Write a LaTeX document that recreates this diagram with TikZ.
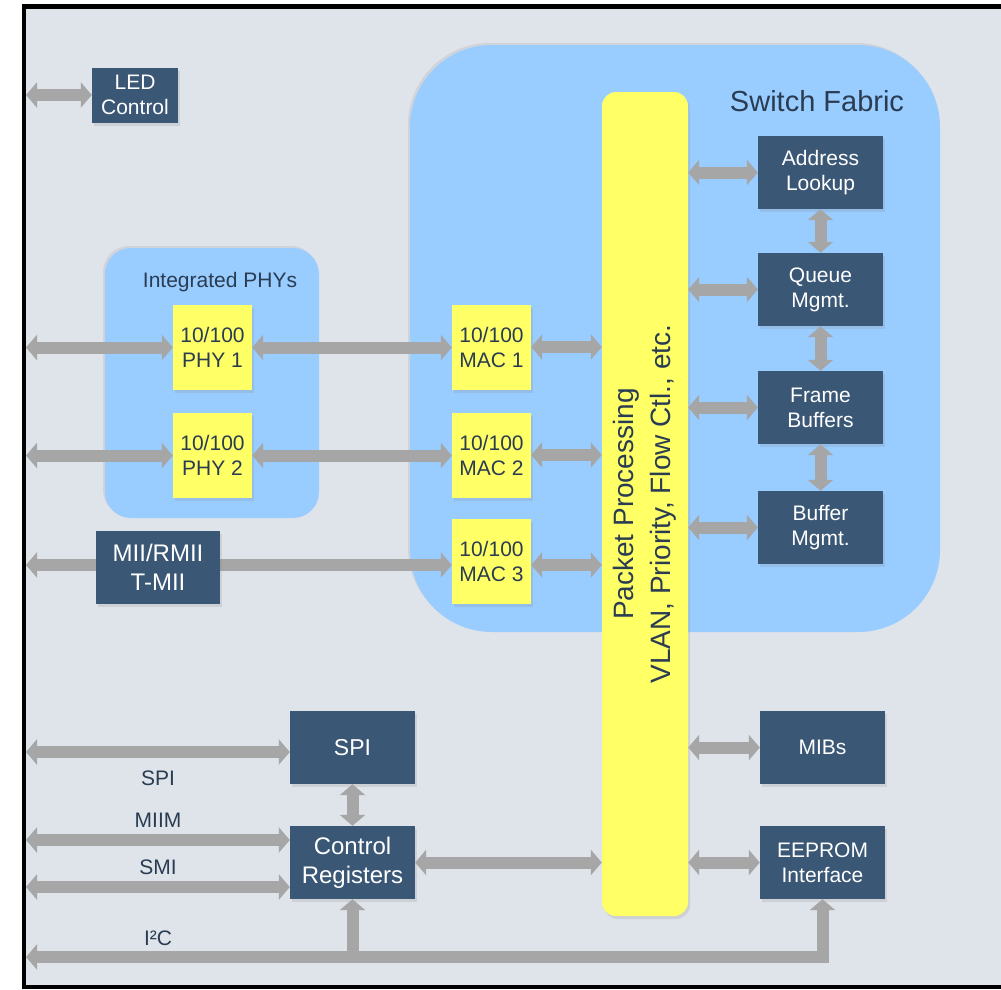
\documentclass[tikz,border=0pt]{standalone}
\usepackage{fontspec}
\setmainfont{Liberation Sans}
\usetikzlibrary{arrows.meta,shadows}
\definecolor{bgc}{HTML}{DFE3EA}
\definecolor{sfblue}{HTML}{99CCFF}
\definecolor{ylw}{HTML}{FFFF66}
\definecolor{dbox}{HTML}{3A5775}
\definecolor{busgray}{HTML}{A6A6A6}
\definecolor{txt}{HTML}{2A3C52}
\begin{document}
\begin{tikzpicture}[x=1pt,y=-1pt,
  >={Triangle[width=25pt,length=11pt]},
  bus/.style={draw=busgray, line width=12pt, line join=miter},
  shd/.style={drop shadow={opacity=0.18, shadow xshift=2pt, shadow yshift=-3pt}},
  darkbox/.style={shd, fill=dbox, text=white, inner sep=0pt, minimum width=125pt, minimum height=73pt, align=center, font=\fontsize{21}{25}\selectfont},
  bigdark/.style={darkbox, font=\fontsize{24}{29}\selectfont},
  ybox/.style={shd, fill=ylw, text=txt, inner sep=0pt, minimum width=79pt, minimum height=85pt, align=center, font=\fontsize{21}{25}\selectfont},
  region/.style={fill=sfblue, drop shadow={opacity=0.15, shadow xshift=-2pt, shadow yshift=2pt}},
  lbl/.style={text=txt, inner sep=0pt, font=\fontsize{21}{25}\selectfont}]
\useasboundingbox (0,0) rectangle (1001,989);
\fill[white] (0,0) rectangle (1001,989);
% frame
\fill[black] (22,4) rectangle (1010,989);
\fill[bgc] (26,9) rectangle (1010,985);
% regions
\fill[region, rounded corners=82pt] (410,45) rectangle (940,632);
\node[lbl, font=\fontsize{29}{34}\selectfont] (sftitle) at (817,101) {Switch Fabric};
\fill[region, rounded corners=26pt] (105,248) rectangle (319,518);
\node[lbl] (phytitle) at (220,282) {Integrated PHYs};
% packet processing bar
\node[shd, fill=ylw, rounded corners=14pt, minimum width=86pt, minimum height=824pt, inner sep=0pt] (bar) at (645,504) {};
\node[rotate=90, align=center, text=txt, font=\fontsize{28}{37}\selectfont] (bartext) at (645,504) {Packet Processing\\VLAN, Priority, Flow Ctl., etc.};
% boxes
\node[darkbox, minimum width=86pt, minimum height=55pt] (led) at (135,95) {LED\\Control};
\node[ybox] (phy1) at (212.5,347.5) {10/100\\PHY 1};
\node[ybox] (phy2) at (212.5,455.5) {10/100\\PHY 2};
\node[ybox] (mac1) at (491.5,347) {10/100\\MAC 1};
\node[ybox] (mac2) at (491.5,455) {10/100\\MAC 2};
\node[ybox] (mac3) at (491.5,561) {10/100\\MAC 3};
\node[darkbox] (addr) at (820.5,172.5) {Address\\Lookup};
\node[darkbox] (queue) at (820.5,289.5) {Queue\\Mgmt.};
\node[darkbox] (frame) at (820.5,407.5) {Frame\\Buffers};
\node[darkbox] (bufm) at (820.5,527.5) {Buffer\\Mgmt.};
\node[darkbox] (mibs) at (822.5,747.5) {MIBs};
\node[darkbox] (eeprom) at (822.5,862.5) {EEPROM\\Interface};
\node[darkbox, font=\fontsize{23}{29}\selectfont] (spi) at (352.5,747.5) {SPI};
\node[bigdark] (ctrl) at (352.5,862.5) {Control\\Registers};
% edge coordinates
\coordinate (eled) at (26,95);
\coordinate (ephy1) at (26,347.5);
\coordinate (ephy2) at (26,455.5);
\coordinate (emii) at (26,565);
\coordinate (espi) at (26,752);
\coordinate (emiim) at (26,840);
\coordinate (esmi) at (26,887);
\coordinate (ei2c) at (26,957);
% buses
\draw[bus,<->] (eled) -- (led.west);
\draw[bus,<->] (ephy1) -- (phy1.west);
\draw[bus,<->] (ephy2) -- (phy2.west);
\draw[bus,<->] (phy1.east) -- (mac1.west |- phy1.east);
\draw[bus,<->] (phy2.east) -- (mac2.west |- phy2.east);
\draw[bus,<->] (emii) -- (mac3.west |- emii);
\node[bigdark, minimum width=124pt] (mii) at (158,567.5) {MII/RMII\\T-MII};
\draw[bus,<->] (mac1.east) -- (mac1.east -| bar.west);
\draw[bus,<->] (mac2.east) -- (mac2.east -| bar.west);
\draw[bus,<->] ([yshift=-4pt]mac3.east) -- ([yshift=-4pt]mac3.east -| bar.west);
\draw[bus,<->] (addr.west -| bar.east) -- (addr.west);
\draw[bus,<->] (queue.west -| bar.east) -- (queue.west);
\draw[bus,<->] (frame.west -| bar.east) -- (frame.west);
\draw[bus,<->] (bufm.west -| bar.east) -- (bufm.west);
\draw[bus,<->] (mibs.west -| bar.east) -- (mibs.west);
\draw[bus,<->] (eeprom.west -| bar.east) -- (eeprom.west);
\draw[bus,<->] (addr.south) -- (queue.north);
\draw[bus,<->] (queue.south) -- (frame.north);
\draw[bus,<->] (frame.south) -- (bufm.north);
\draw[bus,<->] (espi) -- (spi.west |- espi);
\draw[bus,<->] (emiim) -- (ctrl.west |- emiim);
\draw[bus,<->] (esmi) -- (ctrl.west |- esmi);
\draw[bus,<->] (spi.south) -- (ctrl.north);
\draw[bus,<->] (ctrl.east) -- (ctrl.east -| bar.west);
\draw[bus,<->] (ei2c) -- (ei2c -| eeprom.south) -- (eeprom.south);
\draw[bus,->] ([yshift=-6pt]ei2c -| ctrl.south) -- (ctrl.south);
% labels
\node[lbl] (lspi) at (158,778) {SPI};
\node[lbl] (lmiim) at (158,820) {MIIM};
\node[lbl] (lsmi) at (158,867) {SMI};
\node[lbl] (li2c) at (158,938) {I²C};
\end{tikzpicture}
\end{document}
